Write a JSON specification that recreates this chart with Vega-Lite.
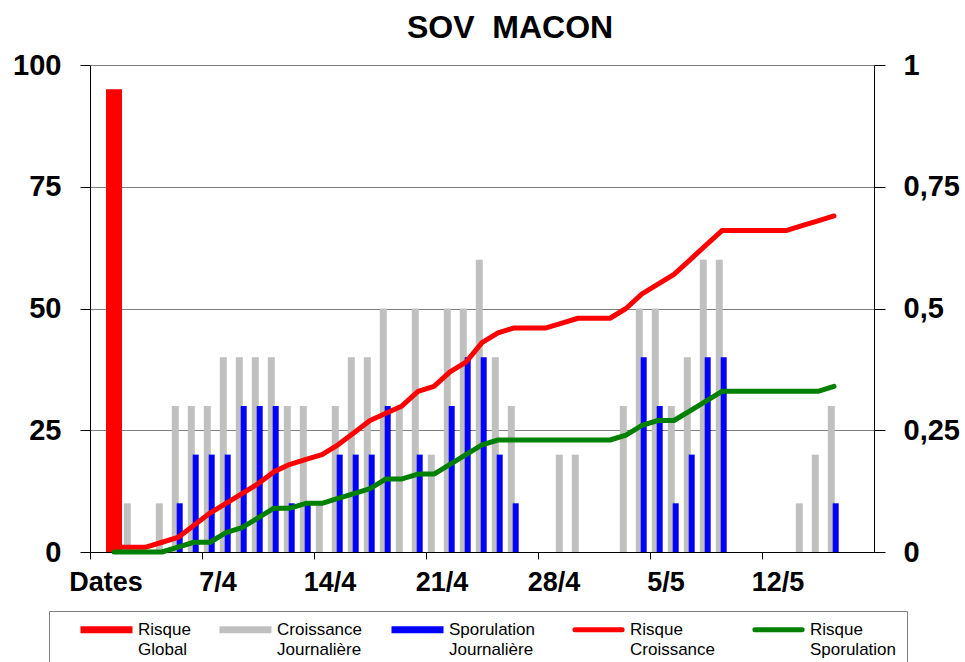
{
  "$schema": "https://vega.github.io/schema/vega-lite/v6.json",
  "width": 784,
  "height": 487,
  "autosize": {"type": "none"},
  "padding": {"left": 90, "top": 65, "right": 91, "bottom": 110},
  "title": {"text": "SOV\u00a0\u00a0MACON", "font": "Liberation Sans", "fontSize": 32, "fontWeight": "bold", "color": "black", "anchor": "middle", "dx": 28, "offset": 6},
  "config": {
    "font": "Liberation Sans",
    "view": {"stroke": null},
    "axis": {"labelFont": "Liberation Sans", "labelFontWeight": "bold", "labelColor": "black", "domainColor": "black", "tickColor": "black", "domainWidth": 1, "tickWidth": 1, "labelOverlap": false, "labelBound": false}
  },
  "data": {"values": [
    {"d": "31/3"},
    {"d": "1/4", "global": 95, "rc": 0.01, "rs": 0},
    {"d": "2/4", "croissance": 10, "rc": 0.01, "rs": 0},
    {"d": "3/4", "rc": 0.01, "rs": 0},
    {"d": "4/4", "croissance": 10, "rc": 0.02, "rs": 0},
    {"d": "5/4", "croissance": 30, "sporulation": 10, "rc": 0.03, "rs": 0.01},
    {"d": "6/4", "croissance": 30, "sporulation": 20, "rc": 0.055, "rs": 0.02},
    {"d": "7/4", "croissance": 30, "sporulation": 20, "rc": 0.08, "rs": 0.02},
    {"d": "8/4", "croissance": 40, "sporulation": 20, "rc": 0.10, "rs": 0.04},
    {"d": "9/4", "croissance": 40, "sporulation": 30, "rc": 0.12, "rs": 0.05},
    {"d": "10/4", "croissance": 40, "sporulation": 30, "rc": 0.14, "rs": 0.07},
    {"d": "11/4", "croissance": 40, "sporulation": 30, "rc": 0.165, "rs": 0.09},
    {"d": "12/4", "croissance": 30, "sporulation": 10, "rc": 0.18, "rs": 0.09},
    {"d": "13/4", "croissance": 30, "sporulation": 10, "rc": 0.19, "rs": 0.10},
    {"d": "14/4", "croissance": 10, "rc": 0.20, "rs": 0.10},
    {"d": "15/4", "croissance": 30, "sporulation": 20, "rc": 0.22, "rs": 0.11},
    {"d": "16/4", "croissance": 40, "sporulation": 20, "rc": 0.245, "rs": 0.12},
    {"d": "17/4", "croissance": 40, "sporulation": 20, "rc": 0.27, "rs": 0.13},
    {"d": "18/4", "croissance": 50, "sporulation": 30, "rc": 0.285, "rs": 0.15},
    {"d": "19/4", "croissance": 30, "rc": 0.30, "rs": 0.15},
    {"d": "20/4", "croissance": 50, "sporulation": 20, "rc": 0.33, "rs": 0.16},
    {"d": "21/4", "croissance": 20, "rc": 0.34, "rs": 0.16},
    {"d": "22/4", "croissance": 50, "sporulation": 30, "rc": 0.37, "rs": 0.18},
    {"d": "23/4", "croissance": 50, "sporulation": 40, "rc": 0.39, "rs": 0.20},
    {"d": "24/4", "croissance": 60, "sporulation": 40, "rc": 0.43, "rs": 0.22},
    {"d": "25/4", "croissance": 40, "sporulation": 20, "rc": 0.45, "rs": 0.23},
    {"d": "26/4", "croissance": 30, "sporulation": 10, "rc": 0.46, "rs": 0.23},
    {"d": "27/4", "rc": 0.46, "rs": 0.23},
    {"d": "28/4", "rc": 0.46, "rs": 0.23},
    {"d": "29/4", "croissance": 20, "rc": 0.47, "rs": 0.23},
    {"d": "30/4", "croissance": 20, "rc": 0.48, "rs": 0.23},
    {"d": "1/5", "rc": 0.48, "rs": 0.23},
    {"d": "2/5", "rc": 0.48, "rs": 0.23},
    {"d": "3/5", "croissance": 30, "rc": 0.50, "rs": 0.24},
    {"d": "4/5", "croissance": 50, "sporulation": 40, "rc": 0.53, "rs": 0.26},
    {"d": "5/5", "croissance": 50, "sporulation": 30, "rc": 0.55, "rs": 0.27},
    {"d": "6/5", "croissance": 30, "sporulation": 10, "rc": 0.57, "rs": 0.27},
    {"d": "7/5", "croissance": 40, "sporulation": 20, "rc": 0.60, "rs": 0.29},
    {"d": "8/5", "croissance": 60, "sporulation": 40, "rc": 0.63, "rs": 0.31},
    {"d": "9/5", "croissance": 60, "sporulation": 40, "rc": 0.66, "rs": 0.33},
    {"d": "10/5", "rc": 0.66, "rs": 0.33},
    {"d": "11/5", "rc": 0.66, "rs": 0.33},
    {"d": "12/5", "rc": 0.66, "rs": 0.33},
    {"d": "13/5", "rc": 0.66, "rs": 0.33},
    {"d": "14/5", "croissance": 10, "rc": 0.67, "rs": 0.33},
    {"d": "15/5", "croissance": 20, "rc": 0.68, "rs": 0.33},
    {"d": "16/5", "croissance": 30, "sporulation": 10, "rc": 0.69, "rs": 0.34},
    {"d": "17/5"},
    {"d": "18/5"}
  ]},
  "encoding": {
    "x": {
      "field": "d",
      "type": "ordinal",
      "scale": {
        "domain": ["31/3","1/4","2/4","3/4","4/4","5/4","6/4","7/4","8/4","9/4","10/4","11/4","12/4","13/4","14/4","15/4","16/4","17/4","18/4","19/4","20/4","21/4","22/4","23/4","24/4","25/4","26/4","27/4","28/4","29/4","30/4","1/5","2/5","3/5","4/5","5/5","6/5","7/5","8/5","9/5","10/5","11/5","12/5","13/5","14/5","15/5","16/5","17/5","18/5"],
        "paddingInner": 0,
        "paddingOuter": 0
      },
      "axis": {
        "title": null,
        "values": ["31/3","7/4","14/4","21/4","28/4","5/5","12/5"],
        "bandPosition": 0,
        "labelOffset": 8,
        "tickSize": 7,
        "labelPadding": 10,
        "labelFontSize": 27,
        "labelAngle": 0,
        "grid": false,
        "labelExpr": "datum.value == '31/3' ? 'Dates' : datum.value"
      }
    }
  },
  "layer": [
    {
      "layer": [
        {
          "mark": {"type": "bar", "width": {"band": 1}},
          "encoding": {
            "y": {"field": "global", "type": "quantitative", "stack": null, "scale": {"domain": [0, 100], "nice": false},
              "axis": {"title": null, "values": [0, 25, 50, 75, 100], "grid": true, "gridColor": "#808080", "gridWidth": 1, "tickSize": 10, "labelPadding": 19, "labelFontSize": 29}},
            "color": {
              "datum": "Risque Global",
              "type": "nominal",
              "scale": {
                "domain": ["Risque Global", "Croissance Journalière", "Sporulation Journalière", "Risque Croissance", "Risque Sporulation"],
                "range": ["#FF0000", "#C0C0C0", "#0000FF", "#FF0000", "#008000"]
              },
              "legend": {
                "orient": "none",
                "legendX": -41,
                "legendY": 546,
                "direction": "horizontal",
                "columns": 5,
                "title": "\u00a0",
                "titleOrient": "left",
                "titlePadding": 21,
                "titleFontSize": 16.5,
                "titleFont": "Liberation Sans",
                "strokeColor": "#808080",
                "padding": 10,
                "symbolSize": 256,
                "labelOffset": 41,
                "columnPadding": 28,
                "labelFont": "Liberation Sans",
                "labelFontSize": 17,
                "labelColor": "black",
                "labelLimit": 300,
                "labelBaseline": "middle",
                "labelExpr": "split(datum.label, ' ')",
                "encode": {
                  "symbols": {"update": {
                    "shape": {"signal": "(datum.value == 'Risque Croissance' || datum.value == 'Risque Sporulation') ? 'M-0.7,0H5.2' : 'M-1,-0.44H5.5V0.44H-1Z'"},
                    "fill": {"signal": "(datum.value == 'Risque Croissance' || datum.value == 'Risque Sporulation') ? 'transparent' : scale('color', datum.value)"},
                    "stroke": {"signal": "(datum.value == 'Risque Croissance' || datum.value == 'Risque Sporulation') ? scale('color', datum.value) : 'transparent'"},
                    "strokeWidth": {"signal": "(datum.value == 'Risque Croissance' || datum.value == 'Risque Sporulation') ? 5 : 0"},
                    "strokeCap": {"value": "round"},
                    "opacity": {"value": 1},
                    "fillOpacity": {"value": 1},
                    "strokeOpacity": {"value": 1}
                  }},
                  "labels": {"update": {"lineHeight": {"value": 20}}}
                }
              }
            }
          }
        },
        {
          "mark": {"type": "bar", "width": 7, "xOffset": -2.7},
          "encoding": {
            "y": {"field": "croissance", "type": "quantitative", "stack": null},
            "color": {"datum": "Croissance Journalière", "type": "nominal"}
          }
        },
        {
          "mark": {"type": "bar", "width": 6, "xOffset": 1.7},
          "encoding": {
            "y": {"field": "sporulation", "type": "quantitative", "stack": null},
            "color": {"datum": "Sporulation Journalière", "type": "nominal"}
          }
        }
      ]
    },
    {
      "layer": [
        {
          "mark": {"type": "line", "strokeWidth": 5, "strokeCap": "round", "strokeJoin": "round"},
          "encoding": {
            "y": {"field": "rc", "type": "quantitative", "scale": {"domain": [0, 1], "nice": false},
              "axis": {"orient": "right", "title": null, "values": [0, 0.25, 0.5, 0.75, 1], "grid": false, "tickSize": 11, "labelPadding": 18, "labelFontSize": 29, "labelExpr": "replace(format(datum.value, '~g'), '.', ',')"}},
            "color": {"datum": "Risque Croissance", "type": "nominal"},
            "order": {"value": null}
          }
        },
        {
          "mark": {"type": "line", "strokeWidth": 5, "strokeCap": "round", "strokeJoin": "round"},
          "encoding": {
            "y": {"field": "rs", "type": "quantitative"},
            "color": {"datum": "Risque Sporulation", "type": "nominal"},
            "order": {"value": null}
          }
        }
      ]
    }
  ],
  "resolve": {"scale": {"y": "independent"}}
}
